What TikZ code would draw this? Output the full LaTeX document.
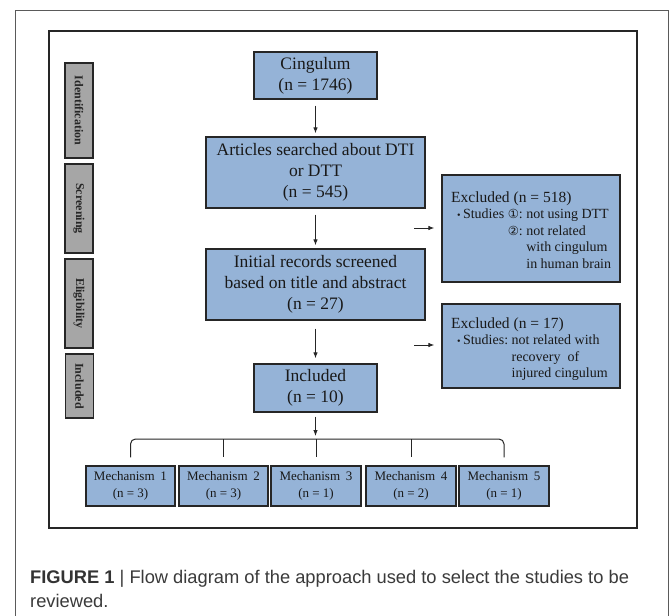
\documentclass[tikz,border=0pt]{standalone}
\usepackage{fontspec}
\setmainfont{Liberation Serif}
\newfontfamily\capfont{Liberation Sans}
\newfontfamily\symfont{DejaVu Sans}
\usetikzlibrary{arrows.meta}
\definecolor{boxblue}{HTML}{95B3D7}
\definecolor{boxgray}{HTML}{A6A6A6}
\definecolor{edgecol}{HTML}{262626}
\definecolor{captext}{HTML}{3A3A3A}
\definecolor{framecol}{HTML}{5A5A5A}
\begin{document}
\begin{tikzpicture}[x=1pt,y=-1pt,
  bluebox/.style={draw=edgecol, line width=1.3pt, fill=boxblue, inner sep=0pt, align=center, text=black!90},
  mainfont/.style={font=\fontsize{17.5}{21}\selectfont},
  mechfont/.style={font=\fontsize{13}{17}\selectfont},
  graybox/.style={draw=edgecol, line width=1.2pt, fill=boxgray, inner sep=0pt, rotate=-90, font=\bfseries\fontsize{12}{13}\selectfont, text=black!85},
  flow/.style={-{Latex[length=6pt,width=4.5pt]}, line width=0.9pt, draw=edgecol},
  brline/.style={line width=1pt, draw=edgecol},
  ]
\useasboundingbox (0,0) rectangle (670,616);
\fill[white] (0,0) rectangle (670,616);
\draw[framecol, line width=1pt] (15,620) -- (15,10) -- (668,10) -- (668,620);
\draw[edgecol, line width=1.2pt] (49,31) rectangle (637,528);

% side labels
\node[graybox, minimum width=95pt, minimum height=28pt] (sid) at (79,110.5) {Identification};
\node[graybox, minimum width=89pt, minimum height=28pt] (sscr) at (79,208.5) {Screening};
\node[graybox, minimum width=89pt, minimum height=28pt] (selig) at (79,303.5) {Eligibility};
\node[graybox, minimum width=64pt, minimum height=28pt] (sinc) at (79.5,386) {Included};

% main flow
\node[bluebox, mainfont, minimum width=123pt, minimum height=47pt] (cing) at (315.5,75.5) {Cingulum\\(n = 1746)};
\node[bluebox, mainfont, minimum width=219pt, minimum height=71pt] (art) at (315.5,172.5) {Articles searched about DTI\\or DTT\\(n = 545)};
\node[bluebox, mainfont, minimum width=219pt, minimum height=71pt] (init) at (315.5,284.5) {Initial records screened\\based on title and abstract\\(n = 27)};
\node[bluebox, mainfont, minimum width=123pt, minimum height=48pt] (incl) at (315.5,388) {Included\\(n = 10)};

\draw[flow, shorten <=6pt, shorten >=3pt] (cing) -- (art);
\draw[flow, shorten <=6pt, shorten >=3pt] (art) -- (init);
\draw[flow, shorten <=8pt, shorten >=5pt] (init) -- (incl);

% excluded boxes
\node[bluebox, minimum width=178pt, minimum height=107pt] (ex1) at (531,228.5) {};
\node[bluebox, minimum width=178pt, minimum height=84pt] (ex2) at (531,346) {};
\node[anchor=base west, inner sep=0pt, text=black!90] (ex1t) at (451,202) {\fontsize{14}{16.5}\selectfont
\begin{tabular}[t]{@{}l@{\ }l@{\ }l@{}}
\multicolumn{3}{@{}l@{}}{\fontsize{15.5}{16.5}\selectfont Excluded (n = 518)}\\
\hspace{6pt}{\fontsize{10}{10}\selectfont\textbullet}\,Studies & {\symfont\fontsize{12.5}{14}\selectfont ①}: & not using DTT\\
 & {\symfont\fontsize{12.5}{14}\selectfont ②}: & not related\\
 & & with cingulum\\
 & & in human brain
\end{tabular}};
\node[anchor=base west, inner sep=0pt, text=black!90] (ex2t) at (451,328) {\fontsize{14}{16.5}\selectfont
\begin{tabular}[t]{@{}l@{\ }l@{}}
\multicolumn{2}{@{}l@{}}{\fontsize{15.5}{16.5}\selectfont Excluded (n = 17)}\\
\hspace{6pt}{\fontsize{10}{10}\selectfont\textbullet}\,Studies: & not related with\\
 & recovery\ \ of\\
 & injured cingulum
\end{tabular}};

\coordinate (a1s) at (414,228);
\coordinate (a2s) at (414,345);
\draw[flow, shorten >=7pt] (a1s) -- (ex1.west |- a1s);
\draw[flow, shorten >=7pt] (a2s) -- (ex2.west |- a2s);

% mechanisms
\node[bluebox, mechfont, minimum width=89pt, minimum height=40pt] (m1) at (130.5,486) {Mechanism\hspace{0.45em}1\\(n = 3)};
\node[bluebox, mechfont, minimum width=89pt, minimum height=40pt] (m2) at (223.5,486) {Mechanism\hspace{0.45em}2\\(n = 3)};
\node[bluebox, mechfont, minimum width=90pt, minimum height=40pt] (m3) at (316,486) {Mechanism\hspace{0.45em}3\\(n = 1)};
\node[bluebox, mechfont, minimum width=90pt, minimum height=40pt] (m4) at (411,486) {Mechanism\hspace{0.45em}4\\(n = 2)};
\node[bluebox, mechfont, minimum width=90pt, minimum height=40pt] (m5) at (504,486) {Mechanism\hspace{0.45em}5\\(n = 1)};

\coordinate (brk) at (315.5,439);
\draw[flow, shorten <=4pt, shorten >=3pt] (incl) -- (brk);
\draw[brline, rounded corners=5pt, shorten <=8pt, shorten >=8pt] (m1.north) -- (m1.north |- brk) -- (m5.north |- brk) -- (m5.north);
\draw[brline, shorten >=8pt] (m2.north |- brk) -- (m2.north);
\draw[brline, shorten >=8pt] (m3.north |- brk) -- (m3.north);
\draw[brline, shorten >=8pt] (m4.north |- brk) -- (m4.north);

% caption
\node[anchor=base west, inner sep=0pt, text=captext, font=\capfont\fontsize{18.3}{25}\selectfont] (cap1) at (30,583) {{\bfseries\color{black!80}FIGURE 1} | Flow diagram of the approach used to select the studies to be};
\node[anchor=base west, inner sep=0pt, text=captext, font=\capfont\fontsize{18.3}{25}\selectfont] (cap2) at (30,607) {reviewed.};
\end{tikzpicture}
\end{document}
